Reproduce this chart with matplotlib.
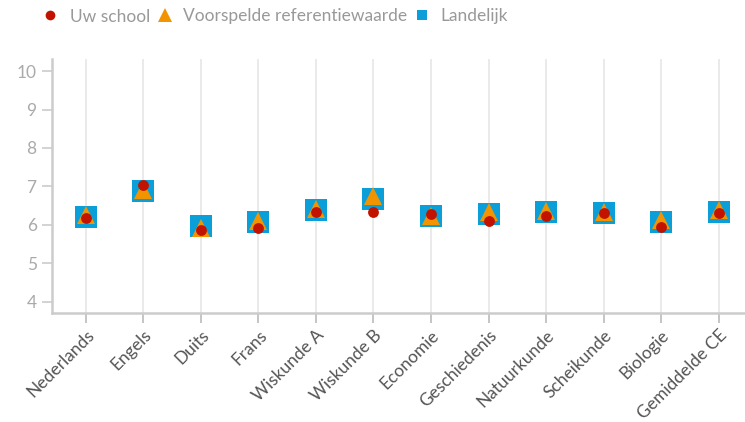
import matplotlib
matplotlib.use("Agg")
import matplotlib.pyplot as plt
from matplotlib.lines import Line2D

plt.rcParams["font.family"] = ["Lato", "DejaVu Sans"]

subjects = ["Nederlands", "Engels", "Duits", "Frans", "Wiskunde A", "Wiskunde B",
            "Economie", "Geschiedenis", "Natuurkunde", "Scheikunde", "Biologie", "Gemiddelde CE"]
uw_school = [6.19, 7.04, 5.88, 5.93, 6.35, 6.35, 6.28, 6.10, 6.23, 6.31, 5.96, 6.31]
voorspeld = [6.25, 6.92, 5.92, 6.10, 6.42, 6.74, 6.23, 6.34, 6.37, 6.34, 6.12, 6.38]
landelijk = [6.22, 6.88, 5.97, 6.08, 6.38, 6.67, 6.24, 6.29, 6.34, 6.32, 6.08, 6.34]
y_ticks = [4, 5, 6, 7, 8, 9, 10]
legend_labels = ["Uw school", "Voorspelde referentiewaarde", "Landelijk"]

RED = "#c21300"
ORANGE = "#f29400"
BLUE = "#0a9fd8"
AXIS = "#cccccc"

W, H = 745, 422
fig = plt.figure(figsize=(W / 100, H / 100), dpi=100)
ax = fig.add_axes([0.0698, 0.258, 0.9302, 0.602])

x = list(range(len(subjects)))
ax.plot(x, landelijk, linestyle="none", marker="s", markersize=15.8, color=BLUE,
        markeredgewidth=0, zorder=3)
ax.plot(x, voorspeld, linestyle="none", marker="^", markersize=13.2, color=ORANGE,
        markeredgewidth=0, zorder=4)
ax.plot(x, uw_school, linestyle="none", marker="o", markersize=7.8, color=RED,
        markeredgewidth=0, zorder=5)

ax.set_xlim(-0.59, 11.46)
ax.set_ylim(3.71, 10.31)
ax.set_yticks(y_ticks)
ax.set_xticks(x)
ax.set_xticklabels(subjects, rotation=45, ha="right", rotation_mode="anchor",
                   fontsize=12.5, color="#555555")
ax.tick_params(axis="y", labelsize=12.5, labelcolor="#aaaaaa", color=AXIS,
               length=7, width=1.2, pad=4)
ax.tick_params(axis="x", color="#bbbbbb", length=7, width=1.2, pad=3)
ax.grid(axis="x", color="#e6e6e6", linewidth=1.2, zorder=0)
ax.set_axisbelow(True)
for side in ("top", "right"):
    ax.spines[side].set_visible(False)
for side in ("left", "bottom"):
    ax.spines[side].set_color(AXIS)
    ax.spines[side].set_linewidth(1.8)

# legend laid out by hand (pixel positions from the top-left corner)
legend_y = 1 - 15 / H
legend_items = [
    (50, 70, "o", 7, RED),
    (165, 183, "^", 10.5, ORANGE),
    (422, 440, "s", 7.5, BLUE),
]
for (mx, tx, marker, size, color), label in zip(legend_items, legend_labels):
    fig.add_artist(Line2D([mx / W], [legend_y], linestyle="none", marker=marker,
                          markersize=size, color=color, markeredgewidth=0,
                          transform=fig.transFigure))
    fig.text(tx / W, legend_y, label, fontsize=12.5, color="#999999",
             ha="left", va="center_baseline")

fig.savefig("out.png", dpi=100)
